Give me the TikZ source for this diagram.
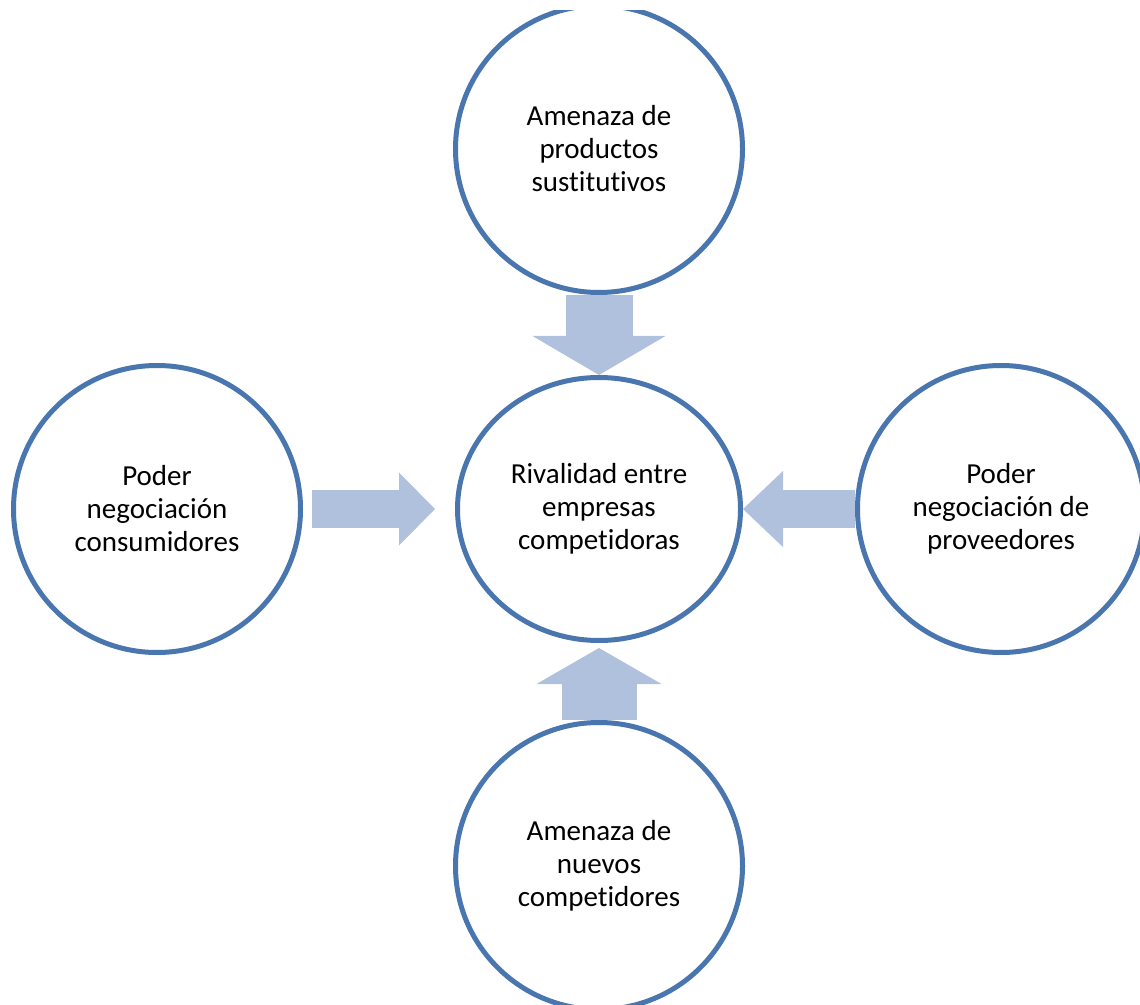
\documentclass[tikz,border=0pt]{standalone}
\usepackage{fontspec}
\setmainfont[Ligatures=NoCommon]{Carlito}
\usetikzlibrary{arrows.meta, positioning, shapes.geometric}

\definecolor{forceblue}{RGB}{74,118,175}
\definecolor{forcefill}{RGB}{176,193,222}

\begin{document}
\begin{tikzpicture}[
    x=0.5pt, y=-0.5pt,
    % Styles
    force/.style={circle, draw=forceblue, line width=2.5pt, fill=white, minimum size=143.5pt, inner sep=0pt, align=center, font=\fontsize{14.5}{16.5}\selectfont},
    rivalry/.style={force, ellipse, minimum width=141.5pt, minimum height=131.5pt},
    push/.style={draw=forcefill}
]
    \useasboundingbox (0,0) rectangle (1140,1005);
    \clip (0,11) rectangle (1140,1005);

    % Center: rivalry
    \node[rivalry] (rival) at (599,509) {Rivalidad entre\\empresas\\competidoras};

    % The four forces around it
    \node[force, above=40pt of rival] (sust) {Amenaza de\\productos\\sustitutivos};
    \node[force, left=76pt of rival] (cons) {Poder\\negociación\\consumidores};
    \node[force, right=56pt of rival] (prov) {Poder\\negociación de\\proveedores};
    \node[force, below=38.5pt of rival] (nuevos) {Amenaza de\\nuevos\\competidores};

    % Block arrows towards the center
    \draw[push, line width=33.5pt, -{Triangle[width=66.5pt, length=19.5pt, line width=0pt]}] (sust.south) -- (rival.north);
    \draw[push, line width=37.5pt, -{Triangle[width=62.5pt, length=18pt, line width=0pt]}, shorten >=2.5pt] (nuevos.north) -- (rival.south);
    \draw[push, line width=19pt, -{Triangle[width=36.5pt, length=18pt, line width=0pt]}, shorten <=4.5pt, shorten >=10pt] (cons.east) -- (rival.west);
    \draw[push, line width=19pt, -{Triangle[width=38pt, length=20pt, line width=0pt]}] (prov.west) -- (rival.east);
\end{tikzpicture}
\end{document}
